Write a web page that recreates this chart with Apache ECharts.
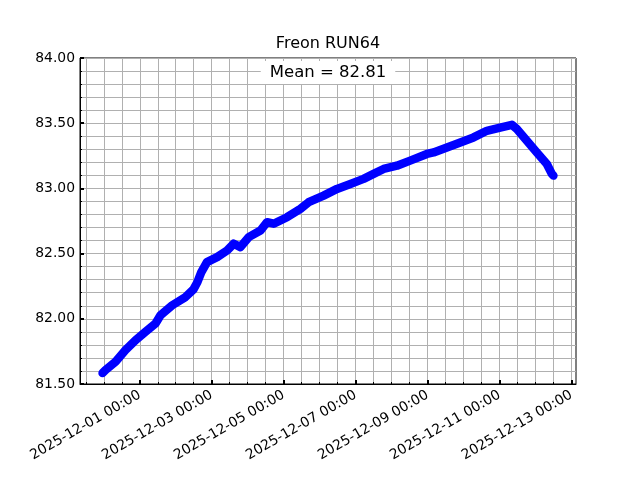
<!DOCTYPE html>
<html><head><meta charset="utf-8">
<script src="https://cdn.jsdelivr.net/npm/echarts@6/dist/echarts.min.js"></script>
<style>html,body{margin:0;padding:0;background:#fff}#c{width:640px;height:480px}</style>
</head><body><div id="c"></div>
<script>
// ---- data (UTC) ----
const times = [
  '2025-11-29 23:10','2025-11-30 01:10','2025-11-30 07:50','2025-11-30 14:30','2025-11-30 21:10',
  '2025-12-01 03:50','2025-12-01 10:30','2025-12-01 13:50','2025-12-01 21:40','2025-12-02 06:30',
  '2025-12-02 11:50','2025-12-02 14:25','2025-12-02 17:00','2025-12-02 20:50','2025-12-03 03:35',
  '2025-12-03 10:15','2025-12-03 14:40','2025-12-03 19:10','2025-12-04 00:40','2025-12-04 08:30',
  '2025-12-04 12:55','2025-12-04 17:20','2025-12-05 02:15','2025-12-05 11:10','2025-12-05 16:40',
  '2025-12-06 02:40','2025-12-06 11:35','2025-12-06 20:30','2025-12-07 05:20','2025-12-07 12:00',
  '2025-12-07 18:40','2025-12-08 03:35','2025-12-08 12:25','2025-12-08 23:35','2025-12-09 04:00',
  '2025-12-09 12:55','2025-12-09 21:50','2025-12-10 06:40','2025-12-10 15:35','2025-12-11 00:25',
  '2025-12-11 08:15','2025-12-11 11:35','2025-12-11 18:15','2025-12-12 00:55','2025-12-12 07:35',
  '2025-12-12 10:55','2025-12-12 12:00'
];
const values = [
  81.584,81.607,81.670,81.760,81.836,
  81.900,81.964,82.027,82.104,82.167,
  82.226,82.280,82.356,82.435,82.473,
  82.524,82.576,82.550,82.626,82.677,
  82.741,82.729,82.779,82.843,82.894,
  82.945,82.996,83.034,83.073,83.111,
  83.149,83.174,83.213,83.264,83.276,
  83.314,83.352,83.391,83.442,83.467,
  83.488,83.455,83.365,83.276,83.187,
  83.111,83.098
];
const xMajorTicks = ['2025-12-01 00:00','2025-12-03 00:00','2025-12-05 00:00','2025-12-07 00:00',
                     '2025-12-09 00:00','2025-12-11 00:00','2025-12-13 00:00'];
const yTicks = [81.5, 82.0, 82.5, 83.0, 83.5, 84.0];
const titleText = 'Freon RUN64';
const meanText = 'Mean = 82.81';

// ---- helpers ----
function toMs(s){ return Date.parse(s.replace(' ', 'T') + ':00Z'); }
function pad(n){ return (n < 10 ? '0' : '') + n; }
function fmt(ms){
  const d = new Date(ms);
  return d.getUTCFullYear() + '-' + pad(d.getUTCMonth()+1) + '-' + pad(d.getUTCDate()) + ' ' +
         pad(d.getUTCHours()) + ':' + pad(d.getUTCMinutes());
}
const xs = times.map(toMs);
const seriesData = xs.map((x, i) => [x, values[i]]);
const x0 = Math.min(...xs), x1 = Math.max(...xs);
const margin = (x1 - x0) * 0.05;
const xMin = x0 - margin, xMax = x1 + margin;
const majorVals = xMajorTicks.map(toMs);
const HALF_DAY = 12 * 3600 * 1000;
const minorVals = [];
for (let t = Math.ceil(xMin / HALF_DAY) * HALF_DAY; t <= xMax; t += HALF_DAY) minorVals.push(t);

const FONT = 'DejaVu Sans';
const GRIDC = '#b0b0b0';

const chart = echarts.init(document.getElementById('c'), null, {renderer: 'canvas'});
chart.setOption({
  animation: false,
  backgroundColor: '#fff',
  title: [
    {text: titleText, left: 328, top: 35, textAlign: 'center', padding: 0,
     textStyle: {fontFamily: FONT, fontSize: 16, fontWeight: 'normal', color: '#000', lineHeight: 18}},
    {text: meanText, left: 319, top: 61.5, textAlign: 'center', padding: [3, 9],
     backgroundColor: '#fff', borderWidth: 0, borderRadius: 3, z: 10,
     textStyle: {fontFamily: FONT, fontSize: 16.5, fontWeight: 'normal', color: '#000', lineHeight: 16}}
  ],
  grid: {left: 80, top: 58, width: 496, height: 326, show: true, borderColor: '#000', borderWidth: 1,
         backgroundColor: 'transparent', containLabel: false},
  xAxis: [
    {type: 'value', min: xMin, max: xMax, position: 'bottom',
     axisLine: {show: true, lineStyle: {color: '#000', width: 1}},
     axisTick: {show: true, inside: true, length: 2, customValues: minorVals, lineStyle: {color: '#000', width: 1}},
     axisLabel: {show: false},
     splitLine: {show: true, lineStyle: {color: GRIDC, width: 1}}},
    {type: 'value', min: xMin, max: xMax, position: 'bottom',
     axisLine: {show: false},
     axisTick: {show: true, inside: true, length: 4, customValues: majorVals, lineStyle: {color: '#000', width: 2}},
     axisLabel: {show: true, customValues: majorVals, rotate: 30, margin: 10, formatter: v => fmt(v),
                 fontFamily: FONT, fontSize: 13.9, color: '#000', hideOverlap: false},
     splitLine: {show: false}}
  ],
  yAxis: [
    {type: 'value', min: yTicks[0], max: yTicks[yTicks.length-1], interval: 0.5,
     axisLine: {show: true, lineStyle: {color: '#000', width: 1}},
     axisTick: {show: true, inside: true, length: 4, lineStyle: {color: '#000', width: 2}},
     minorTick: {show: true, splitNumber: 5, length: 2, lineStyle: {color: '#000', width: 1}},
     axisLabel: {formatter: v => v.toFixed(2), margin: 5, fontFamily: FONT, fontSize: 13.9, color: '#000'},
     splitLine: {show: true, lineStyle: {color: GRIDC, width: 1}},
     minorSplitLine: {show: true, lineStyle: {color: GRIDC, width: 1}}}
  ],
  series: [{
    type: 'line', xAxisIndex: 0, yAxisIndex: 0, data: seriesData,
    showSymbol: false, symbol: 'none',
    lineStyle: {color: '#0000ff', width: 8.5, cap: 'round', join: 'round'},
    z: 3
  }]
});
</script></body></html>
